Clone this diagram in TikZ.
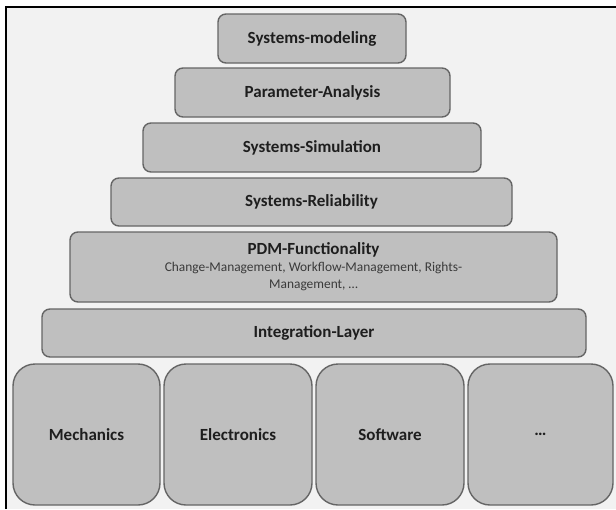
\documentclass[tikz,border=0pt]{standalone}
\usepackage{fontspec}
\setmainfont{Carlito}
\definecolor{boxfill}{HTML}{BFBFBF}
\definecolor{boxborder}{HTML}{656565}
\definecolor{bgpanel}{HTML}{F2F2F2}
\definecolor{textdark}{HTML}{1E1E1E}
\definecolor{subgray}{HTML}{3A3A3A}
\begin{document}
\begin{tikzpicture}[x=1pt,y=-1pt,
  tier/.style={draw=boxborder, fill=boxfill, line width=1.4pt, rounded corners=8pt,
    inner sep=0pt, text=textdark, font=\bfseries\fontsize{17}{20}\selectfont},
  base/.style={tier, rounded corners=22pt, minimum width=147pt, minimum height=141pt}]
\useasboundingbox (0,0) rectangle (616,509);
\fill[white] (0,0) rectangle (616,509);
\fill[bgpanel] (6,7) rectangle (616,509);
\draw[black, line width=2.4pt] (6,509) -- (6,7) -- (616,7);

\node[tier, minimum width=188pt, minimum height=49pt] (model) at (312,38.5) {Systems-modeling};
\node[tier, minimum width=275pt, minimum height=49pt] (param) at (312.5,92.5) {Parameter-Analysis};
\node[tier, minimum width=338pt, minimum height=49pt] (sim) at (312,147.5) {Systems-Simulation};
\node[tier, minimum width=401pt, minimum height=48pt] (rel) at (311.5,202) {Systems-Reliability};
\node[tier, minimum width=487pt, minimum height=70pt, align=center] (pdm) at (313.5,267)
  {PDM-Functionality\\[-3pt]
   {\mdseries\fontsize{13.4}{14}\selectfont\color{subgray}Change-Management, Workflow-Management, Rights-}\\[-3pt]
   {\mdseries\fontsize{13.4}{14}\selectfont\color{subgray}Management, …}};
\node[tier, minimum width=544pt, minimum height=48pt] (integ) at (314,333) {Integration-Layer};

\node[base] (mech) at (86.5,434.5) {Mechanics};
\node[base, minimum width=148pt] (elec) at (238,434.5) {Electronics};
\node[base, minimum width=148pt] (soft) at (390,434.5) {Software};
\node[base, minimum width=145pt] (more) at (540.5,434.5) {…};
\end{tikzpicture}
\end{document}
